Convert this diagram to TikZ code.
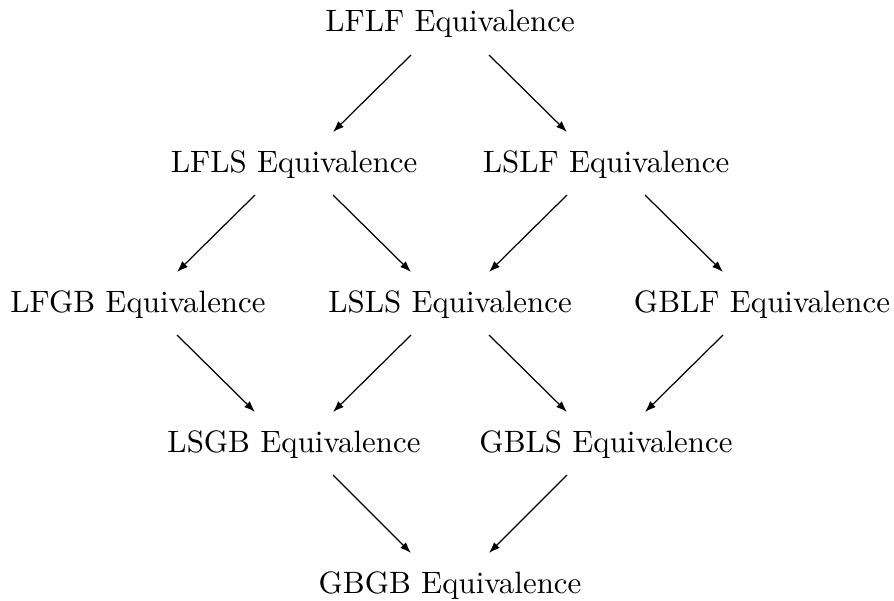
\documentclass[tikz,border=0pt]{standalone}
\usetikzlibrary{arrows.meta,calc}
\begin{document}
\begin{tikzpicture}[x=0.3236pt,y=-0.3236pt,
  eqnode/.style={anchor=base,inner sep=0pt},
  arr/.style={-{Latex[length=3.6pt,width=2.6pt]},line width=0.4pt}]
\useasboundingbox (0,0) rectangle (894,600);
% lattice of equivalences, one row per level
\node[eqnode] (LFLF) at (450,32)  {LFLF Equivalence};
\node[eqnode] (LFLS) at (294,172) {LFLS Equivalence};
\node[eqnode] (LSLF) at (606,172) {LSLF Equivalence};
\node[eqnode] (LFGB) at (138,312) {LFGB Equivalence};
\node[eqnode] (LSLS) at (450,312) {LSLS Equivalence};
\node[eqnode] (GBLF) at (762,312) {GBLF Equivalence};
\node[eqnode] (LSGB) at (294,452) {LSGB Equivalence};
\node[eqnode] (GBLS) at (606,452) {GBLS Equivalence};
\node[eqnode] (GBGB) at (450,593) {GBGB Equivalence};
% implications: from upper node to lower node, s = -1 goes left, s = 1 goes right
\foreach \a/\b/\s in {LFLF/LFLS/-1, LFLF/LSLF/1,
                      LFLS/LFGB/-1, LFLS/LSLS/1, LSLF/LSLS/-1, LSLF/GBLF/1,
                      LFGB/LSGB/1, LSLS/LSGB/-1, LSLS/GBLS/1, GBLF/GBLS/-1,
                      LSGB/GBGB/1, GBLS/GBGB/-1}
  \draw[arr] ($(\a.base)+(\s*39,23)$) -- ($(\b.base)+(-\s*39,-40)$);
\end{tikzpicture}
\end{document}
